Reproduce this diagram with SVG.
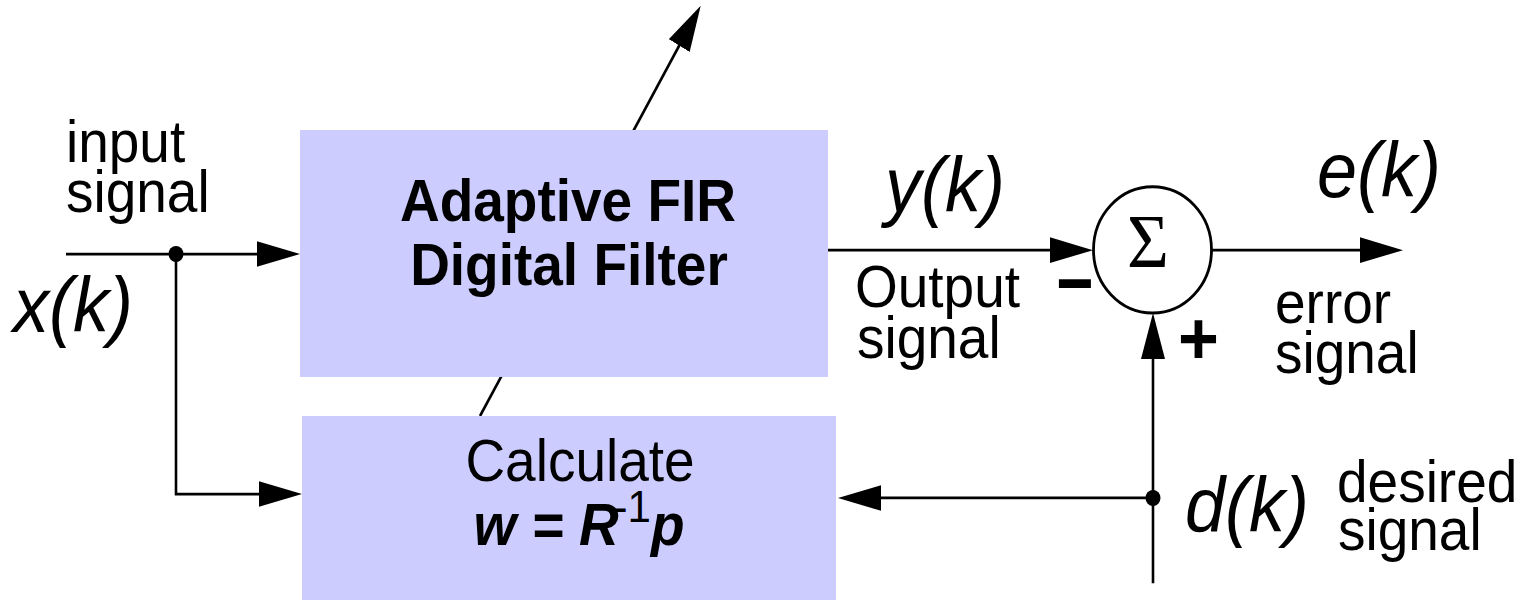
<svg xmlns="http://www.w3.org/2000/svg" width="1522" height="600" viewBox="0 0 1522 600">
  <style>
    .block { fill: #ccccff; }
    .wire { fill: none; stroke: #000; stroke-width: 2.6; }
    .arrow { marker-end: url(#head); }
    .dot { fill: #000; }
    .sum { fill: #fff; stroke: #000; stroke-width: 2.8; }
    text { font-family: "Liberation Sans", Arial, sans-serif; fill: #000; }
    .lbl { font-size: 55px; }
    .sig { font-size: 72px; font-style: italic; }
    .title { font-size: 55px; font-weight: bold; text-anchor: middle; }
    .calc { font-size: 55px; text-anchor: middle; }
    .eq { font-size: 55px; font-weight: bold; font-style: italic; text-anchor: middle; }
    .sup { font-size: 42px; font-weight: normal; font-style: normal; }
    .sigma { font-family: "Liberation Serif", "Times New Roman", serif; font-size: 72px; text-anchor: middle; }
    .sign { font-size: 70px; font-weight: bold; text-anchor: middle; }
  </style>
  <defs>
    <marker id="head" markerUnits="userSpaceOnUse" markerWidth="44" markerHeight="26" refX="33" refY="12" orient="auto">
      <path d="M0,0 L43,12 L0,24 Z" fill="#000"/>
    </marker>
  </defs>

  <!-- the whole drawing is laid out on a 1522x561 grid and stretched slightly in height -->
  <g transform="scale(1,1.07)">

    <!-- weight-update link, drawn first so the filter block hides its middle part -->
    <g id="connectors">
      <line class="wire arrow" x1="480" y1="388.8" x2="695.7" y2="14"/>
    </g>

    <g id="filter">
      <rect class="block" x="300" y="121.5" width="528" height="230.8"/>
      <text class="title" x="568" y="206.5">Adaptive FIR</text>
      <text class="title" x="569" y="266.4">Digital Filter</text>
    </g>

    <g id="calc">
      <rect class="block" x="302" y="388.8" width="534" height="175"/>
      <text class="calc" x="580" y="449.5">Calculate</text>
      <text class="eq" x="579" y="509.5">w = R<tspan class="sup" dx="-5" dy="-22">-1</tspan><tspan dy="22">p</tspan></text>
    </g>

    <g id="signal-wires">
      <!-- input x(k) and its branch to the weight calculation -->
      <line class="wire arrow" x1="66" y1="237.4" x2="290" y2="237.4"/>
      <path class="wire arrow" d="M176,237.4 V461.7 H292"/>
      <circle class="dot" cx="176" cy="237.4" r="7.5"/>
      <!-- filter output into the summing junction -->
      <line class="wire arrow" x1="828" y1="233.8" x2="1083" y2="233.8"/>
      <!-- error output -->
      <line class="wire arrow" x1="1211" y1="233.8" x2="1393" y2="233.8"/>
      <!-- desired signal up into the junction and back to the calculation -->
      <line class="wire arrow" x1="1153" y1="545" x2="1153" y2="302.5"/>
      <line class="wire arrow" x1="1153" y1="465.4" x2="848" y2="465.4"/>
      <circle class="dot" cx="1153" cy="465.4" r="7.5"/>
    </g>

    <g id="sum">
      <circle class="sum" cx="1152.5" cy="233.5" r="59"/>
      <text class="sigma" x="1148" y="249.2">Σ</text>
      <text class="sign" transform="translate(1075,283) scale(1.8,1)">-</text>
      <text class="sign" x="1198.5" y="340">+</text>
    </g>

    <g id="labels">
      <text class="lbl" x="66" y="151.1">input</text>
      <text class="lbl" x="66" y="197.9">signal</text>
      <text class="sig" x="13" y="310">x(k)</text>
      <text class="sig" x="885" y="197.9">y(k)</text>
      <text class="lbl" x="855" y="286.6">Output</text>
      <text class="lbl" x="857" y="334.9">signal</text>
      <text class="sig" x="1317" y="183.8">e(k)</text>
      <text class="lbl" x="1275" y="301.6">error</text>
      <text class="lbl" x="1275" y="348.6">signal</text>
      <text class="sig" x="1185" y="496.9">d(k)</text>
      <text class="lbl" x="1337" y="468.9">desired</text>
      <text class="lbl" x="1338" y="514">signal</text>
    </g>
  </g>
</svg>
